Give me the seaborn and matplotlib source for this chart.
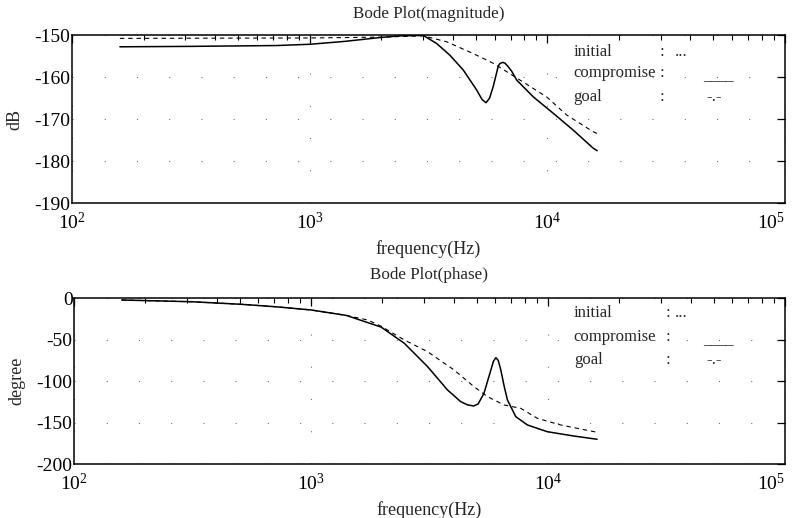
import numpy as np
import pandas as pd
import matplotlib
matplotlib.use("Agg")
import matplotlib.pyplot as plt
import seaborn as sns
from matplotlib.ticker import LogLocator, FixedLocator

# ---------------- data ----------------
mag_comp_freq = [159, 316, 726, 1002, 1413, 1977, 2399, 3006, 3420, 3890, 4426,
                 5047, 5309, 5521, 5715, 5916, 6209, 6310, 6486, 6637, 6839,
                 7079, 7430, 8730, 10590, 12850, 15600, 16220]
mag_comp_db = [-152.8, -152.7, -152.5, -152.2, -151.5, -150.6, -150.2, -150.1,
               -152.0, -154.8, -158.3, -163.1, -165.3, -166.1, -165.0, -162.3,
               -157.5, -156.8, -156.5, -156.7, -157.5, -158.6, -160.7, -164.7,
               -168.6, -172.6, -176.9, -177.5]

mag_goal_freq = [159, 1000, 1995, 3006, 3767, 4875, 5916, 7674, 9931, 12050,
                 15600, 16220]
mag_goal_db = [-150.8, -150.7, -150.5, -150.2, -151.6, -154.4, -156.7, -160.7,
               -164.7, -169.0, -173.0, -173.4]

ph_comp_freq = [159, 316, 509, 708, 1002, 1413, 1630, 1977, 2477, 3105, 3767,
                4285, 4571, 4853, 5070, 5370, 5559, 5741, 5888, 6026, 6166,
                6324, 6531, 6745, 7311, 8185, 9931, 12850, 16110]
ph_comp_deg = [-2.4, -4.5, -7.6, -10.5, -14.4, -21.0, -27.0, -35.0, -54.5,
               -82.6, -110.6, -124.7, -128.5, -129.9, -127.5, -114.6, -100.0,
               -86.6, -76.0, -71.8, -75.0, -86.6, -106.0, -122.7, -142.7,
               -152.7, -160.8, -166.0, -169.9]

ph_goal_freq = [159, 316, 509, 708, 1002, 1413, 1738, 1977, 2477, 3105, 4018,
                4875, 5559, 6531, 7674, 9016, 11300, 16110]
ph_goal_deg = [-2.4, -4.5, -7.6, -10.5, -14.4, -21.0, -26.5, -34.0, -50.5,
               -64.6, -86.6, -106.7, -118.7, -128.7, -132.7, -144.7, -152.7,
               -161.5]

x_ticks = [1e2, 1e3, 1e4, 1e5]
x_ticklabels = [r"$\mathdefault{10^{2}}$", r"$\mathdefault{10^{3}}$",
                r"$\mathdefault{10^{4}}$", r"$\mathdefault{10^{5}}$"]
mag_yticks = [-190, -180, -170, -160, -150]
ph_yticks = [-200, -150, -100, -50, 0]

legend_names = ["initial", "compromise", "goal"]
legend_samples = ["...", "____", "-.-"]

# ---------------- style ----------------
sns.set_style("white")
plt.rcParams["font.family"] = ["Liberation Serif", "DejaVu Serif"]
plt.rcParams["mathtext.fontset"] = "stix"
plt.rcParams["axes.unicode_minus"] = False
plt.rcParams["font.size"] = 12

mag_df = pd.concat([
    pd.DataFrame({"freq": mag_comp_freq, "val": mag_comp_db, "series": "compromise"}),
    pd.DataFrame({"freq": mag_goal_freq, "val": mag_goal_db, "series": "goal"}),
])
ph_df = pd.concat([
    pd.DataFrame({"freq": ph_comp_freq, "val": ph_comp_deg, "series": "compromise"}),
    pd.DataFrame({"freq": ph_goal_freq, "val": ph_goal_deg, "series": "goal"}),
])

fig = plt.figure(figsize=(7.93, 5.18), dpi=100)
ax1 = fig.add_axes([0.0908, 0.6075, 0.8991, 0.3249])
ax2 = fig.add_axes([0.0933, 0.1037, 0.8966, 0.3210])

styles = {"compromise": "-", "goal": (0, (4, 3.5))}
widths = {"compromise": 1.1, "goal": 0.8}


def draw(ax, df, yticks, ylabel, title, title_pad, leg_y, colon_x, sample_x):
    ax.set_xscale("log")
    for name, sub in df.groupby("series", sort=False):
        sns.lineplot(data=sub, x="freq", y="val", ax=ax, color="black",
                     linewidth=widths[name], sort=False,
                     linestyle=styles[name], legend=False, estimator=None)
    ax.set_xlim(1e2, 1e5)
    ax.set_ylim(yticks[0], yticks[-1])
    ax.yaxis.set_major_locator(FixedLocator(yticks))
    ax.set_xticks(x_ticks, labels=x_ticklabels)
    ax.xaxis.set_minor_locator(LogLocator(base=10, subs=np.arange(2, 10), numticks=30))
    ax.tick_params(which="both", direction="in", top=True, right=True,
                   colors="black", labelsize=14)
    ax.tick_params(which="major", length=6, width=0.9)
    ax.tick_params(which="minor", length=3.5, width=0.8)
    ax.tick_params(axis="x", which="major", pad=6)
    ax.tick_params(axis="y", which="major", pad=1)
    for s in ax.spines.values():
        s.set_visible(True)
        s.set_color("black")
        s.set_linewidth(1.1)
    ax.grid(True, which="major", color="0.45", linewidth=0.8,
            linestyle=(0, (1, 28)))
    ax.set_xlabel("frequency(Hz)", fontsize=13, labelpad=5)
    ax.set_ylabel(ylabel, fontsize=13, labelpad=8)
    ax.set_title(title, fontsize=12.3, pad=title_pad)
    labs = ax.get_xticklabels()
    labs[-1].set_horizontalalignment("right")
    for name, sample, yy in zip(legend_names, legend_samples, leg_y):
        ax.text(0.703, yy, name, transform=ax.transAxes, fontsize=12,
                ha="left", va="center")
        ax.text(colon_x, yy, ":", transform=ax.transAxes, fontsize=12,
                ha="center", va="center")
        off = 0.0 if sample == "..." else (0.04 if sample == "____" else 0.045)
        ax.text(sample_x + off, yy - (0.02 if sample == "____" else 0.0), sample,
                transform=ax.transAxes, fontsize=11 if sample == "____" else 12,
                ha="left", va="center")


draw(ax1, mag_df, mag_yticks, "dB", "Bode Plot(magnitude)", 12,
     [0.899, 0.774, 0.631], 0.827, 0.845)
draw(ax2, ph_df, ph_yticks, "degree", "Bode Plot(phase)", 14,
     [0.91, 0.765, 0.627], 0.835, 0.845)

fig.savefig("out.png", dpi=100)
